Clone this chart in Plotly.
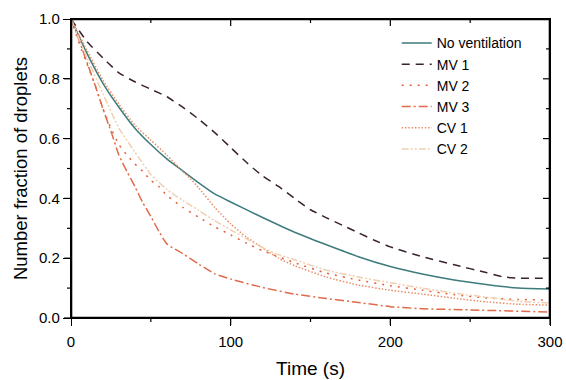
import plotly.graph_objects as go

# ---- data ----
t_nv = [0, 10, 20, 30, 40, 50, 60, 70, 80, 90, 100, 120, 140, 160, 180, 200, 220, 240, 260, 280, 300]
nv = [1.0, 0.885, 0.785, 0.705, 0.635, 0.58, 0.532, 0.492, 0.452, 0.415, 0.388, 0.336, 0.287, 0.245,
      0.205, 0.172, 0.147, 0.127, 0.112, 0.1, 0.097]

t_mv1 = [0, 10, 20, 30, 40, 50, 60, 70, 80, 90, 100, 110, 120, 130, 140, 150, 160, 170, 180, 190, 200,
         220, 240, 260, 270, 280, 300]
mv1 = [1.0, 0.925, 0.87, 0.82, 0.79, 0.765, 0.74, 0.705, 0.665, 0.62, 0.57, 0.52, 0.475, 0.44, 0.40,
       0.362, 0.335, 0.31, 0.285, 0.26, 0.238, 0.205, 0.178, 0.152, 0.138, 0.133, 0.133]

t_mv2 = [0, 5, 10, 15, 20, 25, 30, 35, 40, 45, 50, 55, 60, 70, 80, 90, 100, 110, 120, 140, 160, 180,
         200, 220, 240, 260, 280, 300]
mv2 = [1.0, 0.92, 0.85, 0.78, 0.70, 0.635, 0.58, 0.545, 0.515, 0.49, 0.46, 0.44, 0.41, 0.37, 0.337,
       0.305, 0.278, 0.25, 0.225, 0.185, 0.15, 0.127, 0.108, 0.093, 0.078, 0.067, 0.062, 0.06]

t_mv3 = [0, 5, 10, 15, 20, 25, 30, 35, 40, 45, 50, 55, 60, 70, 80, 90, 100, 120, 140, 160, 180, 200,
         220, 250, 300]
mv3 = [1.0, 0.93, 0.855, 0.78, 0.70, 0.625, 0.545, 0.49, 0.44, 0.385, 0.34, 0.29, 0.248, 0.215, 0.18,
       0.148, 0.13, 0.102, 0.08, 0.065, 0.052, 0.038, 0.031, 0.027, 0.02]

t_cv1 = [0, 10, 20, 30, 40, 50, 60, 70, 75, 80, 90, 100, 110, 120, 130, 140, 160, 180, 200, 220, 240,
         260, 280, 300]
cv1 = [1.0, 0.895, 0.795, 0.715, 0.645, 0.595, 0.545, 0.49, 0.465, 0.435, 0.37, 0.315, 0.27, 0.235,
       0.2, 0.175, 0.137, 0.11, 0.093, 0.08, 0.066, 0.054, 0.046, 0.043]

t_cv2 = [0, 10, 20, 30, 40, 50, 60, 70, 80, 90, 100, 110, 120, 130, 140, 160, 180, 200, 220, 240, 260,
         280, 300]
cv2 = [1.0, 0.87, 0.75, 0.635, 0.555, 0.48, 0.43, 0.393, 0.36, 0.325, 0.295, 0.265, 0.235, 0.212,
       0.195, 0.16, 0.137, 0.118, 0.1, 0.083, 0.07, 0.056, 0.05]

x_ticks = [0, 100, 200, 300]
x_minor = [50, 150, 250]
y_ticks = [0.0, 0.2, 0.4, 0.6, 0.8, 1.0]
y_minor = [0.1, 0.3, 0.5, 0.7, 0.9]
x_range = [0, 300]
y_range = [0, 1]

series = [
    ("No ventilation", t_nv, nv, "#3d7b7d", "solid"),
    ("MV 1", t_mv1, mv1, "#3a2232", "8px,6px"),
    ("MV 2", t_mv2, mv2, "#e2603b", "2px,6px"),
    ("MV 3", t_mv3, mv3, "#e06a4a", "9px,3px,2px,3px"),
    ("CV 1", t_cv1, cv1, "#ea8d66", "1.5px,1.8px"),
    ("CV 2", t_cv2, cv2, "#f1d0b1", "7px,2px,2px,2px,2px,2px"),
]

FONT = "Arial, Liberation Sans, sans-serif"
W, H = 566, 380
ML, MR, MT, MB = 71, 16, 19, 62
PW, PH = W - ML - MR, H - MT - MB
xspan = x_range[1] - x_range[0]
yspan = y_range[1] - y_range[0]

fig = go.Figure()
for name, xs, ys, col, dash in series:
    fig.add_trace(go.Scatter(x=xs, y=ys, mode="lines", name=name,
                             line=dict(color=col, width=1.5, dash=dash, shape="spline", smoothing=0.5)))

# plot frame as a trace along the axis limits (half of the stroke lies inside the clip area)
fx = [x_range[0], x_range[1], x_range[1], x_range[0], x_range[0]]
fy = [y_range[0], y_range[0], y_range[1], y_range[1], y_range[0]]
fig.add_trace(go.Scatter(x=fx, y=fy, mode="lines", line=dict(color="#000000", width=2.6),
                         showlegend=False, hoverinfo="skip"))

# inside ticks on the top and right edges
tx, ty = [], []
for vals, ln in ((x_ticks, 7), (x_minor, 4)):
    for v in vals:
        tx += [v, v, None]
        ty += [y_range[1], y_range[1] - ln / PH * yspan, None]
for vals, ln in ((y_ticks, 7), (y_minor, 4)):
    for v in vals:
        tx += [x_range[1], x_range[1] - ln / PW * xspan, None]
        ty += [v, v, None]
fig.add_trace(go.Scatter(x=tx, y=ty, mode="lines", line=dict(color="#000000", width=1.2),
                         showlegend=False, hoverinfo="skip", connectgaps=False))


# outside ticks on bottom/left (minor ones as shapes; major ones from the axes)
def seg(x0, y0, x1, y1, xref, yref, w=1.2):
    return dict(type="line", xref=xref, yref=yref, x0=x0, y0=y0, x1=x1, y1=y1,
                line=dict(color="#000000", width=w), layer="above")


shapes = []
for vals, ln in ((x_ticks, 7), (x_minor, 4)):
    for v in vals:
        shapes.append(seg(v, 0, v, -ln / PH, "x", "paper"))
for vals, ln in ((y_ticks, 7), (y_minor, 4)):
    for v in vals:
        shapes.append(seg(0, v, -ln / PW, v, "paper", "y"))

fig.update_layout(
    width=W, height=H,
    margin=dict(l=ML, r=MR, t=MT, b=MB),
    paper_bgcolor="white", plot_bgcolor="white",
    font=dict(family=FONT, size=15, color="black"),
    showlegend=True,
    shapes=shapes,
    legend=dict(x=0.68, y=0.972, xanchor="left", yanchor="top", bgcolor="rgba(0,0,0,0)",
                font=dict(size=14, family=FONT, color="black"), tracegroupgap=0),
    xaxis=dict(range=x_range, tickmode="array", tickvals=x_ticks, ticktext=[str(v) for v in x_ticks],
               ticks="outside", ticklen=7, tickwidth=1.2, tickcolor="#000000",
               showline=True, linecolor="#000000", linewidth=1.3, mirror=True,
               showgrid=False, zeroline=False, automargin=False, ticklabelstandoff=3,
               tickfont=dict(size=15, color="#000000"),
               title=dict(text="Time (s)", font=dict(size=19), standoff=12)),
    yaxis=dict(range=y_range, tickmode="array", tickvals=y_ticks, ticktext=[f"{v:.1f}" for v in y_ticks],
               ticks="outside", ticklen=7, tickwidth=1.2, tickcolor="#000000",
               showline=True, linecolor="#000000", linewidth=1.3, mirror=True,
               showgrid=False, zeroline=False, automargin=False,
               tickfont=dict(size=15, color="#000000"),
               title=dict(text="Number fraction of droplets", font=dict(size=18.5), standoff=6)),
)

fig.write_html("out.html")
